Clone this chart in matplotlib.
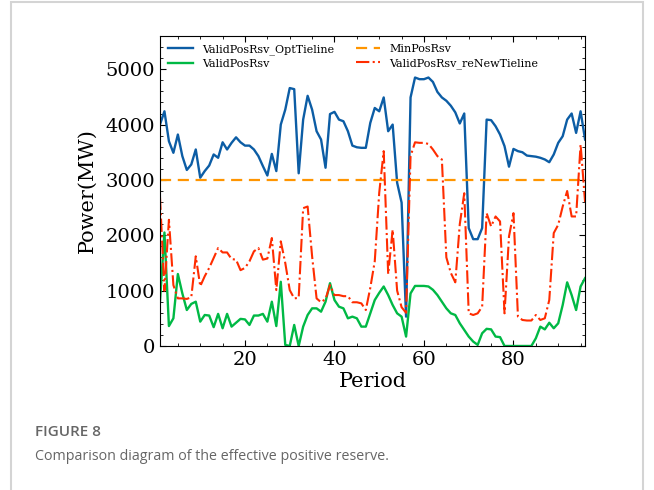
import numpy as np
import matplotlib.pyplot as plt
from matplotlib.ticker import AutoMinorLocator, MultipleLocator
from matplotlib.patches import Rectangle

#
# Data (MW per period)
#
periods = np.arange(1, 97)

opt_tieline = [4000, 4240, 3700, 3490, 3820, 3430, 3180, 3280, 3550, 3040,
               3160, 3260, 3460, 3400, 3680, 3550, 3670, 3770, 3680, 3620,
               3620, 3550, 3430, 3250, 3080, 3470, 3160, 4000, 4270, 4660,
               4640, 3120, 4090, 4520, 4270, 3880, 3730, 3220, 4190, 4230,
               4090, 4060, 3880, 3620, 3590, 3580, 3580, 4030, 4300, 4240,
               4490, 3880, 4000, 2950, 2590, 530, 4490, 4850, 4820, 4820,
               4850, 4770, 4590, 4490, 4430, 4340, 4220, 4020, 4200, 2130,
               1930, 1930, 2130, 4090, 4080, 3970, 3820, 3610, 3240, 3560,
               3520, 3500, 3440, 3430, 3420, 3400, 3370, 3320, 3460, 3670,
               3790, 4090, 4200, 3850, 4240, 3730]

valid_pos = [800, 2050, 360, 500, 1300, 950, 650, 760, 800, 440,
             560, 550, 340, 580, 320, 580, 350, 420, 490, 480,
             380, 550, 550, 580, 440, 800, 360, 1160, 20, 0,
             380, 0, 350, 560, 680, 680, 620, 800, 1135, 830,
             710, 680, 500, 530, 500, 350, 350, 590, 830, 960,
             1075, 920, 740, 590, 530, 170, 950, 1085, 1085, 1085,
             1075, 1015, 920, 800, 680, 590, 560, 410, 290, 170,
             80, 20, 230, 310, 300, 170, 160, 0, 0, 0,
             0, 0, 0, 0, 140, 350, 300, 420, 320, 410,
             740, 1150, 920, 650, 1075, 1225]

renew_tieline = [2700, 1000, 2280, 1100, 860, 860, 850, 880, 1620, 1080,
                 1260, 1410, 1590, 1770, 1690, 1690, 1570, 1560, 1370, 1410,
                 1530, 1710, 1770, 1560, 1580, 1950, 1010, 1890, 1500, 1010,
                 860, 870, 2490, 2520, 1620, 860, 790, 850, 1100, 920,
                 920, 900, 900, 790, 790, 770, 650, 1050, 1530, 2770,
                 3520, 1300, 2100, 1000, 700, 600, 3430, 3680, 3670, 3670,
                 3650, 3550, 3430, 3370, 1600, 1320, 1150, 2200, 2760, 590,
                 560, 590, 710, 2400, 2160, 2340, 2250, 590, 1980, 2400,
                 530, 470, 460, 460, 560, 470, 500, 830, 2040, 2190,
                 2520, 2800, 2340, 2340, 3640, 2600]

min_pos_rsv = 3000

labels = ['ValidPosRsv_OptTieline', 'ValidPosRsv', 'MinPosRsv',
          'ValidPosRsv_reNewTieline']

#
# Figure
#
plt.rcParams['font.family'] = 'DejaVu Serif'
fig = plt.figure(figsize=(6.54, 4.9), dpi=100)
ax = fig.add_axes([0.2446, 0.2939, 0.65, 0.6326])

l1, = ax.plot(periods, opt_tieline, color='#0C5DA5', lw=1.7)
l2, = ax.plot(periods, valid_pos, color='#00B945', lw=1.7)
l3 = ax.axhline(min_pos_rsv, color='#FF9500', lw=1.6, ls='--', dashes=(5, 3))
l4, = ax.plot(periods, renew_tieline, color='#FF2C00', lw=1.5, ls='-.')

ax.set_xlim(1, 96)
ax.set_ylim(0, 5600)
ax.xaxis.set_major_locator(MultipleLocator(20))
ax.yaxis.set_major_locator(MultipleLocator(1000))
ax.xaxis.set_minor_locator(AutoMinorLocator(4))
ax.yaxis.set_minor_locator(AutoMinorLocator(5))
ax.tick_params(which='both', direction='in', top=True, right=True,
               labelsize=14)
ax.tick_params(which='major', length=4.5)
ax.tick_params(which='minor', length=2.2)

ax.set_xlabel('Period', fontsize=15, labelpad=2)
ax.set_ylabel('Power(MW)', fontsize=15, labelpad=6)

ax.legend([l1, l2, l3, l4], labels, ncol=2, loc='upper left',
          frameon=False, fontsize=8, handlelength=2.2,
          columnspacing=2.0, borderaxespad=0.35, labelspacing=0.35)

#
# Caption box
#
fig.patches.append(Rectangle((11 / 654, -0.01), 632 / 654, 1 - 2 / 490 + 0.01,
                             transform=fig.transFigure, fill=False,
                             edgecolor='#d4d4d4', lw=1.5))
fig.text(35 / 654, 1 - 432 / 490, 'FIGURE 8', family='Open Sans',
         fontsize=11, color='#666666', va='center', weight='semibold')
fig.text(35 / 654, 1 - 456 / 490,
         'Comparison diagram of the effective positive reserve.',
         family='Open Sans', fontsize=10.3, color='#666666', va='center')

fig.savefig('out.png', dpi=100)
